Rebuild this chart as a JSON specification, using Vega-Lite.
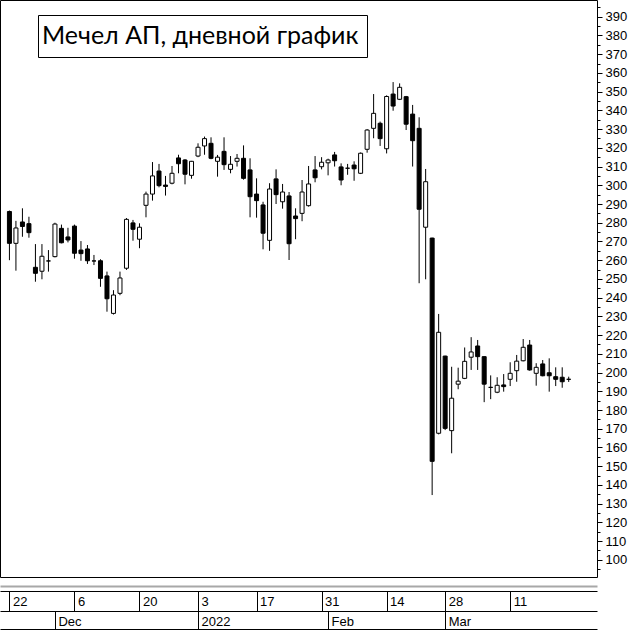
{
  "$schema": "https://vega.github.io/schema/vega-lite/v6.json",
  "width": 597,
  "height": 577,
  "autosize": "none",
  "padding": {"left": 0, "top": 0, "right": 36, "bottom": 54},
  "background": "white",
  "config": {
    "view": {"stroke": "black", "strokeWidth": 1},
    "axis": {"grid": false, "labelColor": "black", "tickColor": "black", "domainColor": "black", "title": null}
  },
  "data": {"values": [
    {"i":0,"o":286,"h":286.5,"l":260,"c":269},
    {"i":1,"o":269,"h":281,"l":254.4,"c":277.2},
    {"i":2,"o":280.4,"h":287.7,"l":272.5,"c":278},
    {"i":3,"o":279.5,"h":283.2,"l":272,"c":274.7},
    {"i":4,"o":256.2,"h":268.6,"l":248.5,"c":253},
    {"i":5,"o":254.1,"h":268.6,"l":249.8,"c":262.1},
    {"i":6,"o":259.6,"h":265.4,"l":253.9,"c":259.6},
    {"i":7,"o":261.9,"h":280,"l":261.5,"c":279.3},
    {"i":8,"o":277,"h":279,"l":269,"c":269.3},
    {"i":9,"o":272.4,"h":277.3,"l":269.5,"c":270.8},
    {"i":10,"o":278.2,"h":279,"l":260.8,"c":263.7},
    {"i":11,"o":265.4,"h":270.2,"l":259.7,"c":263.5},
    {"i":12,"o":266,"h":268.1,"l":258,"c":259.7},
    {"i":13,"o":259.6,"h":262.8,"l":257.4,"c":259.6},
    {"i":14,"o":259.7,"h":260.5,"l":245.8,"c":250.3},
    {"i":15,"o":251.6,"h":253.9,"l":232.5,"c":239.4},
    {"i":16,"o":231.6,"h":244,"l":231,"c":241.4},
    {"i":17,"o":242.3,"h":253.9,"l":241.3,"c":250.5},
    {"i":18,"o":255.7,"h":282.5,"l":254.8,"c":281.8},
    {"i":19,"o":279.9,"h":281.5,"l":270.4,"c":276.5},
    {"i":20,"o":271.2,"h":279.7,"l":266.4,"c":277.6},
    {"i":21,"o":289.3,"h":296.6,"l":282.9,"c":295.3},
    {"i":22,"o":295.3,"h":312.4,"l":291.8,"c":305},
    {"i":23,"o":307.6,"h":311.4,"l":298.9,"c":299.8},
    {"i":24,"o":300.1,"h":305,"l":294.5,"c":299.4},
    {"i":25,"o":301.1,"h":310.3,"l":300.5,"c":306.4},
    {"i":26,"o":314.6,"h":316.3,"l":306.4,"c":311.5},
    {"i":27,"o":313.5,"h":314,"l":300.5,"c":305.9},
    {"i":28,"o":305.3,"h":313,"l":303.5,"c":312.8},
    {"i":29,"o":315.6,"h":322.4,"l":315,"c":320.3},
    {"i":30,"o":321,"h":326,"l":316.3,"c":324.9},
    {"i":31,"o":322.4,"h":325.6,"l":313.9,"c":314.4},
    {"i":32,"o":312.8,"h":316.2,"l":304.6,"c":315},
    {"i":33,"o":318.1,"h":325.6,"l":308.2,"c":311},
    {"i":34,"o":308.5,"h":315.6,"l":306.4,"c":311.2},
    {"i":35,"o":312.8,"h":316.7,"l":310,"c":314.4},
    {"i":36,"o":314.4,"h":321.3,"l":303,"c":303.7},
    {"i":37,"o":308.2,"h":314.4,"l":282.9,"c":293.9},
    {"i":38,"o":295.3,"h":303.7,"l":282.7,"c":291.8},
    {"i":39,"o":289.5,"h":291.2,"l":265.8,"c":274.4},
    {"i":40,"o":270.6,"h":301.1,"l":265,"c":298},
    {"i":41,"o":303.4,"h":308.5,"l":290,"c":295},
    {"i":42,"o":291.2,"h":300.7,"l":287.5,"c":296.4},
    {"i":43,"o":294.3,"h":296.4,"l":260.1,"c":268.8},
    {"i":44,"o":283.6,"h":287.7,"l":271.2,"c":282.2},
    {"i":45,"o":285,"h":302.8,"l":280.8,"c":296.4},
    {"i":46,"o":289.1,"h":310.3,"l":288.6,"c":300.7},
    {"i":47,"o":308.2,"h":315.6,"l":301.6,"c":304},
    {"i":48,"o":309.9,"h":315,"l":308.5,"c":312.3},
    {"i":49,"o":312,"h":314.2,"l":305.3,"c":313.5},
    {"i":50,"o":316.2,"h":317.8,"l":310,"c":313.1},
    {"i":51,"o":309.8,"h":311.7,"l":300,"c":302.8},
    {"i":52,"o":309.1,"h":311.4,"l":305.6,"c":309.1},
    {"i":53,"o":310.8,"h":312.8,"l":302.4,"c":308.8},
    {"i":54,"o":306.4,"h":317.5,"l":306,"c":317.1},
    {"i":55,"o":319.2,"h":330,"l":317.4,"c":329.5},
    {"i":56,"o":330.4,"h":348.7,"l":325.1,"c":338.4},
    {"i":57,"o":333.1,"h":334,"l":321,"c":324.9},
    {"i":58,"o":319.5,"h":348,"l":317,"c":347.4},
    {"i":59,"o":348.7,"h":355.1,"l":339.8,"c":342.3},
    {"i":60,"o":345.9,"h":354.4,"l":345.5,"c":352.3},
    {"i":61,"o":347.3,"h":347.7,"l":329.5,"c":332.6},
    {"i":62,"o":338,"h":342.9,"l":310,"c":323.8},
    {"i":63,"o":330.4,"h":336.3,"l":247.7,"c":287.2},
    {"i":64,"o":277.6,"h":308.7,"l":249.8,"c":301.9},
    {"i":65,"o":271.8,"h":272,"l":134.6,"c":152.6},
    {"i":66,"o":167.6,"h":231.3,"l":167,"c":221.5},
    {"i":67,"o":208.8,"h":209,"l":169.3,"c":170.2},
    {"i":68,"o":169,"h":203.1,"l":156.9,"c":186.3},
    {"i":69,"o":193.8,"h":202.6,"l":191.1,"c":195.4},
    {"i":70,"o":196.9,"h":213.4,"l":196.5,"c":206},
    {"i":71,"o":208.2,"h":218.9,"l":201.4,"c":211},
    {"i":72,"o":214.2,"h":217.4,"l":201.4,"c":208.5},
    {"i":73,"o":208.5,"h":208.6,"l":184.2,"c":193.8},
    {"i":74,"o":192.1,"h":198.5,"l":185.8,"c":192.1},
    {"i":75,"o":189.5,"h":197.5,"l":189,"c":193.2},
    {"i":76,"o":193.4,"h":199.2,"l":189.8,"c":192.5},
    {"i":77,"o":196.4,"h":205.5,"l":192.8,"c":199.6},
    {"i":78,"o":201,"h":209.4,"l":195.1,"c":206.1},
    {"i":79,"o":206.3,"h":217.9,"l":206,"c":213.5},
    {"i":80,"o":214.7,"h":217.4,"l":201,"c":201.4},
    {"i":81,"o":199.6,"h":205,"l":193,"c":202.8},
    {"i":82,"o":204.6,"h":206.7,"l":198,"c":198.3},
    {"i":83,"o":199.9,"h":207.6,"l":189.8,"c":198.3},
    {"i":84,"o":197.8,"h":202.8,"l":192.8,"c":196.4},
    {"i":85,"o":197.5,"h":202.8,"l":191.9,"c":195.1},
    {"i":86,"o":196.4,"h":197.8,"l":195,"c":196.4}
  ]},
  "resolve": {"axis": {"x": "independent", "y": "independent"}},
  "layer": [
    {
      "mark": {"type": "rule", "strokeWidth": 1},
      "encoding": {
        "x": {"field": "i", "type": "quantitative",
          "scale": {"domain": [-0.68, 89.58], "nice": false, "zero": false},
          "axis": {"orient": "bottom", "offset": 14,
            "values": [0, 10, 20, 29, 38, 48, 58, 67, 77],
            "labelExpr": "['22','6','20','3','17','31','14','28','11'][indexof([0,10,20,29,38,48,58,67,77], datum.value)]",
            "tickSize": 20, "labelAlign": "left", "labelOffset": 3, "labelBaseline": "alphabetic", "labelPadding": -6,
            "labelFont": "Liberation Sans", "labelFontSize": 13,
            "labelFlush": false, "labelOverlap": false, "labelBound": false}},
        "y": {"field": "l", "type": "quantitative",
          "scale": {"domain": [90.85, 398.92], "nice": false, "zero": false},
          "axis": {"orient": "right",
            "values": [100,110,120,130,140,150,160,170,180,190,200,210,220,230,240,250,260,270,280,290,300,310,320,330,340,350,360,370,380,390],
            "tickSize": 5, "labelPadding": 3, "domain": false,
            "labelFont": "Liberation Sans", "labelFontSize": 13,
            "labelFlush": false, "labelOverlap": false, "labelBound": false}},
        "y2": {"field": "h"},
        "color": {"datum": "Мечел АП, дневной график", "scale": {"range": ["black"]},
          "legend": {"orient": "none", "legendX": 38, "legendY": 15, "title": null,
            "strokeColor": "black", "fillColor": "white", "padding": 8,
            "labelFont": "Lato, Roboto", "labelFontSize": 25, "labelLimit": 0,
            "symbolType": "circle", "symbolSize": 0, "symbolStrokeWidth": 0, "symbolOpacity": 0, "labelOffset": -29}}
      }
    },
    {
      "transform": [{"filter": "datum.c < datum.o"}],
      "mark": {"type": "bar", "width": 4, "fill": "black", "stroke": "black", "strokeWidth": 1},
      "encoding": {
        "x": {"field": "i", "type": "quantitative",
          "scale": {"domain": [-0.68, 89.58], "nice": false, "zero": false},
          "axis": {"orient": "bottom", "offset": 34,
            "values": [7, 29, 49, 67],
            "labelExpr": "['Dec','2022','Feb','Mar'][indexof([7,29,49,67], datum.value)]",
            "tickSize": 18, "labelAlign": "left", "labelOffset": 3, "labelBaseline": "alphabetic", "labelPadding": -4,
            "labelFont": "Liberation Sans", "labelFontSize": 13,
            "labelFlush": false, "labelOverlap": false, "labelBound": false}},
        "y": {"field": "o", "type": "quantitative",
          "scale": {"domain": [90.85, 398.92], "nice": false, "zero": false},
          "axis": {"orient": "right",
            "values": [95,105,115,125,135,145,155,165,175,185,195,205,215,225,235,245,255,265,275,285,295,305,315,325,335,345,355,365,375,385,395],
            "tickSize": 3, "labels": false, "domain": false}},
        "y2": {"field": "c"}
      }
    },
    {
      "transform": [{"filter": "datum.c > datum.o"}],
      "mark": {"type": "bar", "width": 4, "fill": "white", "stroke": "black", "strokeWidth": 1},
      "encoding": {
        "x": {"field": "i", "type": "quantitative",
          "scale": {"domain": [-0.68, 89.58], "nice": false, "zero": false},
          "axis": {"orient": "bottom", "offset": 52, "ticks": false, "labels": false, "domain": true}},
        "y": {"field": "o", "type": "quantitative",
          "scale": {"domain": [90.85, 398.92], "nice": false, "zero": false}, "axis": null},
        "y2": {"field": "c"}
      }
    },
    {
      "transform": [{"filter": "datum.c == datum.o"}],
      "mark": {"type": "bar", "width": 4, "fill": "white", "stroke": "black", "strokeWidth": 1},
      "encoding": {
        "x": {"field": "i", "type": "quantitative",
          "scale": {"domain": [-0.68, 89.58], "nice": false, "zero": false},
          "axis": {"orient": "bottom", "offset": 9, "ticks": false, "labels": false, "domain": true, "domainColor": "#a8a8a8", "domainWidth": 2}},
        "y": {"field": "o", "type": "quantitative",
          "scale": {"domain": [90.85, 398.92], "nice": false, "zero": false}, "axis": null},
        "y2": {"field": "c"}
      }
    }
  ]
}
